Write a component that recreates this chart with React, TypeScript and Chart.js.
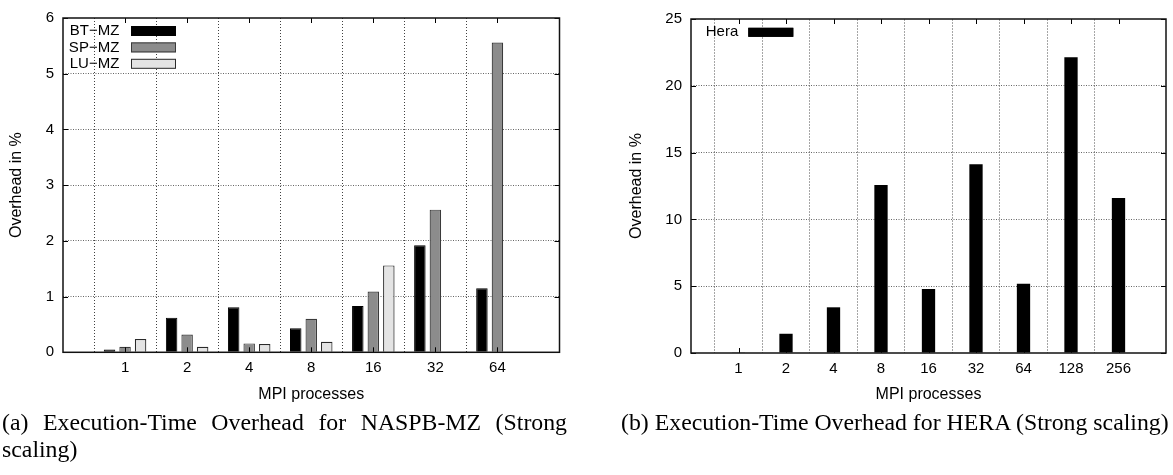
import React, { useEffect, useRef } from 'react';
import { Chart, registerables } from 'chart.js';

Chart.register(...registerables);

const SANS = '"Liberation Sans", Arial, Helvetica, sans-serif';
const SERIF = '"Liberation Serif", "Times New Roman", serif';

// ---- (a) NASPB-MZ data ----
const nasCategories = ['1', '2', '4', '8', '16', '32', '64'];
const btMz = [0.05, 0.62, 0.81, 0.43, 0.83, 1.92, 1.15];
const spMz = [0.1, 0.32, 0.16, 0.6, 1.09, 2.56, 5.56];
const luMz: (number | null)[] = [0.24, 0.1, 0.15, 0.19, 1.56, null, null];
const nasYMax = 6;
const nasYStep = 1;

// ---- (b) HERA data ----
const heraCategories = ['1', '2', '4', '8', '16', '32', '64', '128', '256'];
const heraValues = [0.05, 1.44, 3.42, 12.57, 4.79, 14.12, 5.19, 22.13, 11.6];
const heraYMax = 25;
const heraYStep = 5;

const axisTitleX = 'MPI processes';
const axisTitleY = 'Overhead in %';
const captionA = '(a) Execution-Time Overhead for NASPB-MZ (Strong scaling)';
const captionB = '(b) Execution-Time Overhead for HERA (Strong scaling)';

function padLabels(arr: string[]) {
  return ['', ...arr, ''];
}
function padData(arr: (number | null)[]) {
  return [null, ...arr, null];
}

const frameLegendPlugin = {
  id: 'frameLegend',
  afterDatasetsDraw(chart: any, _args: any, opts: any) {
    const { ctx, chartArea } = chart;
    const { left, right, top, bottom } = chartArea;
    const xs = chart.scales.x;
    const ys = chart.scales.y;
    ctx.save();
    ctx.setLineDash([]);
    ctx.strokeStyle = '#000';
    ctx.lineWidth = 1;
    const L = 5;
    ctx.beginPath();
    xs.ticks.forEach((t: any, i: number) => {
      if (!t.label) return;
      const px = Math.round(xs.getPixelForTick(i)) + 0.5;
      ctx.moveTo(px, bottom);
      ctx.lineTo(px, bottom - L);
      ctx.moveTo(px, top);
      ctx.lineTo(px, top + L);
    });
    ys.ticks.forEach((_t: any, i: number) => {
      const py = Math.round(ys.getPixelForTick(i)) + 0.5;
      ctx.moveTo(left, py);
      ctx.lineTo(left + L, py);
      ctx.moveTo(right, py);
      ctx.lineTo(right - L, py);
    });
    ctx.stroke();
    ctx.lineWidth = 1.5;
    ctx.strokeStyle = '#111';
    ctx.strokeRect(left, top, right - left, bottom - top);

    // in-plot legend (gnuplot style: label, then swatch)
    ctx.font = `15px ${SANS}`;
    ctx.textAlign = 'right';
    ctx.textBaseline = 'middle';
    chart.data.datasets.forEach((ds: any, i: number) => {
      const cy = top + opts.rowY + i * opts.rowStep;
      ctx.fillStyle = '#000';
      ctx.fillText(ds.label, left + opts.textRight, cy);
      const sx = left + opts.swatchX;
      const sy = cy - opts.swatchH / 2;
      ctx.fillStyle = ds.backgroundColor;
      ctx.fillRect(sx, sy, opts.swatchW, opts.swatchH);
      ctx.strokeStyle = ds.borderColor;
      ctx.lineWidth = 1;
      ctx.strokeRect(sx + 0.5, sy + 0.5, opts.swatchW - 1, opts.swatchH - 1);
    });
    ctx.restore();
  },
};

type ChartProps = {
  labels: string[];
  datasets: any[];
  yMax: number;
  yStep: number;
  width: number;
  height: number;
  padTop: number;
  padRight: number;
  yWidth: number;
  xHeight: number;
  vGrid: string;
  vDash: number[];
  hGrid: string;
  hDash: number[];
  categoryPercentage: number;
  barPercentage: number;
  legend: any;
};

function BarChart(p: ChartProps) {
  const ref = useRef<HTMLCanvasElement>(null);
  useEffect(() => {
    const n = p.labels.length;
    const chart = new Chart(ref.current as HTMLCanvasElement, {
      type: 'bar',
      data: { labels: p.labels, datasets: p.datasets },
      plugins: [frameLegendPlugin as any],
      options: {
        animation: false,
        responsive: false,
        maintainAspectRatio: false,
        layout: { padding: { top: p.padTop, right: p.padRight, left: 0, bottom: 0 } },
        datasets: {
          bar: {
            categoryPercentage: p.categoryPercentage,
            barPercentage: p.barPercentage,
          },
        },
        plugins: {
          legend: { display: false },
          tooltip: { enabled: false },
          frameLegend: p.legend,
        } as any,
        scales: {
          x: {
            type: 'category',
            offset: false,
            grid: {
              drawTicks: false,
              lineWidth: 1,
              color: (c: any) => (c.index === 0 || c.index === n - 1 ? 'rgba(0,0,0,0)' : p.vGrid),
            },
            border: { display: false, dash: p.vDash },
            ticks: {
              autoSkip: false,
              maxRotation: 0,
              minRotation: 0,
              color: '#000',
              font: { family: SANS, size: 15 },
              padding: 7,
            },
            title: {
              display: true,
              text: axisTitleX,
              color: '#000',
              font: { family: SANS, size: 16 },
              padding: { top: 0, bottom: 6 },
            },
            afterFit: (s: any) => {
              s.height = p.xHeight;
            },
          },
          y: {
            min: 0,
            max: p.yMax,
            grid: {
              drawTicks: false,
              lineWidth: 1,
              color: (c: any) =>
                c.tick && (c.tick.value === 0 || c.tick.value === p.yMax) ? 'rgba(0,0,0,0)' : p.hGrid,
            },
            border: { display: false, dash: p.hDash },
            ticks: {
              stepSize: p.yStep,
              color: '#000',
              font: { family: SANS, size: 15 },
              padding: 9,
            },
            title: {
              display: true,
              text: axisTitleY,
              color: '#000',
              font: { family: SANS, size: 16 },
              padding: { top: 6.5, bottom: 0 },
            },
            afterFit: (s: any) => {
              s.width = p.yWidth;
            },
          },
        },
      } as any,
    });
    return () => chart.destroy();
  }, []);
  return <canvas ref={ref} width={p.width} height={p.height} style={{ display: 'block', width: p.width, height: p.height }} />;
}

export default function App() {
  useEffect(() => {
    document.body.style.margin = '0';
  }, []);

  const nasDatasets = [
    { label: 'BT\u2212MZ', data: padData(btMz), backgroundColor: '#000000', borderColor: '#000000', borderWidth: 1 },
    { label: 'SP\u2212MZ', data: padData(spMz), backgroundColor: '#8c8c8c', borderColor: '#3a3a3a', borderWidth: 1.2 },
    { label: 'LU\u2212MZ', data: padData(luMz), backgroundColor: '#e4e4e4', borderColor: '#2a2a2a', borderWidth: 1.2 },
  ];
  const heraDatasets = [
    { label: 'Hera', data: padData(heraValues), backgroundColor: '#000000', borderColor: '#000000', borderWidth: 0 },
  ];

  return (
    <div style={{ position: 'relative', width: 1173, height: 475, background: '#fff', overflow: 'hidden' }}>
      <div style={{ position: 'absolute', left: 0, top: 0 }}>
        <BarChart
          labels={padLabels(nasCategories)}
          datasets={nasDatasets}
          yMax={nasYMax}
          yStep={nasYStep}
          width={575}
          height={410}
          padTop={14}
          padRight={15.5}
          yWidth={63}
          xHeight={57.7}
          vGrid="rgba(0,0,0,0.75)"
          vDash={[1, 2]}
          hGrid="rgba(0,0,0,0.6)"
          hDash={[1, 1.5]}
          categoryPercentage={0.75}
          barPercentage={0.74}
          legend={{ rowY: 13, rowStep: 16.4, textRight: 56.3, swatchX: 68, swatchW: 45, swatchH: 10 }}
        />
      </div>
      <div style={{ position: 'absolute', left: 620, top: 0 }}>
        <BarChart
          labels={padLabels(heraCategories)}
          datasets={heraDatasets}
          yMax={heraYMax}
          yStep={heraYStep}
          width={553}
          height={410}
          padTop={19}
          padRight={2}
          yWidth={71}
          xHeight={57}
          vGrid="rgba(0,0,0,0.35)"
          vDash={[2, 1]}
          hGrid="rgba(0,0,0,0.6)"
          hDash={[1, 1.5]}
          categoryPercentage={1}
          barPercentage={0.28}
          legend={{ rowY: 13.3, rowStep: 16, textRight: 47.3, swatchX: 57.3, swatchW: 45, swatchH: 9 }}
        />
      </div>
      <div
        style={{
          position: 'absolute',
          left: 2,
          top: 409,
          width: 565,
          fontFamily: SERIF,
          fontSize: '23.8px',
          lineHeight: '27px',
          textAlign: 'justify',
          color: '#000',
        }}
      >
        {captionA}
      </div>
      <div
        style={{
          position: 'absolute',
          left: 621,
          top: 409,
          whiteSpace: 'nowrap',
          fontFamily: SERIF,
          fontSize: '23.8px',
          lineHeight: '27px',
          color: '#000',
        }}
      >
        {captionB}
      </div>
    </div>
  );
}
